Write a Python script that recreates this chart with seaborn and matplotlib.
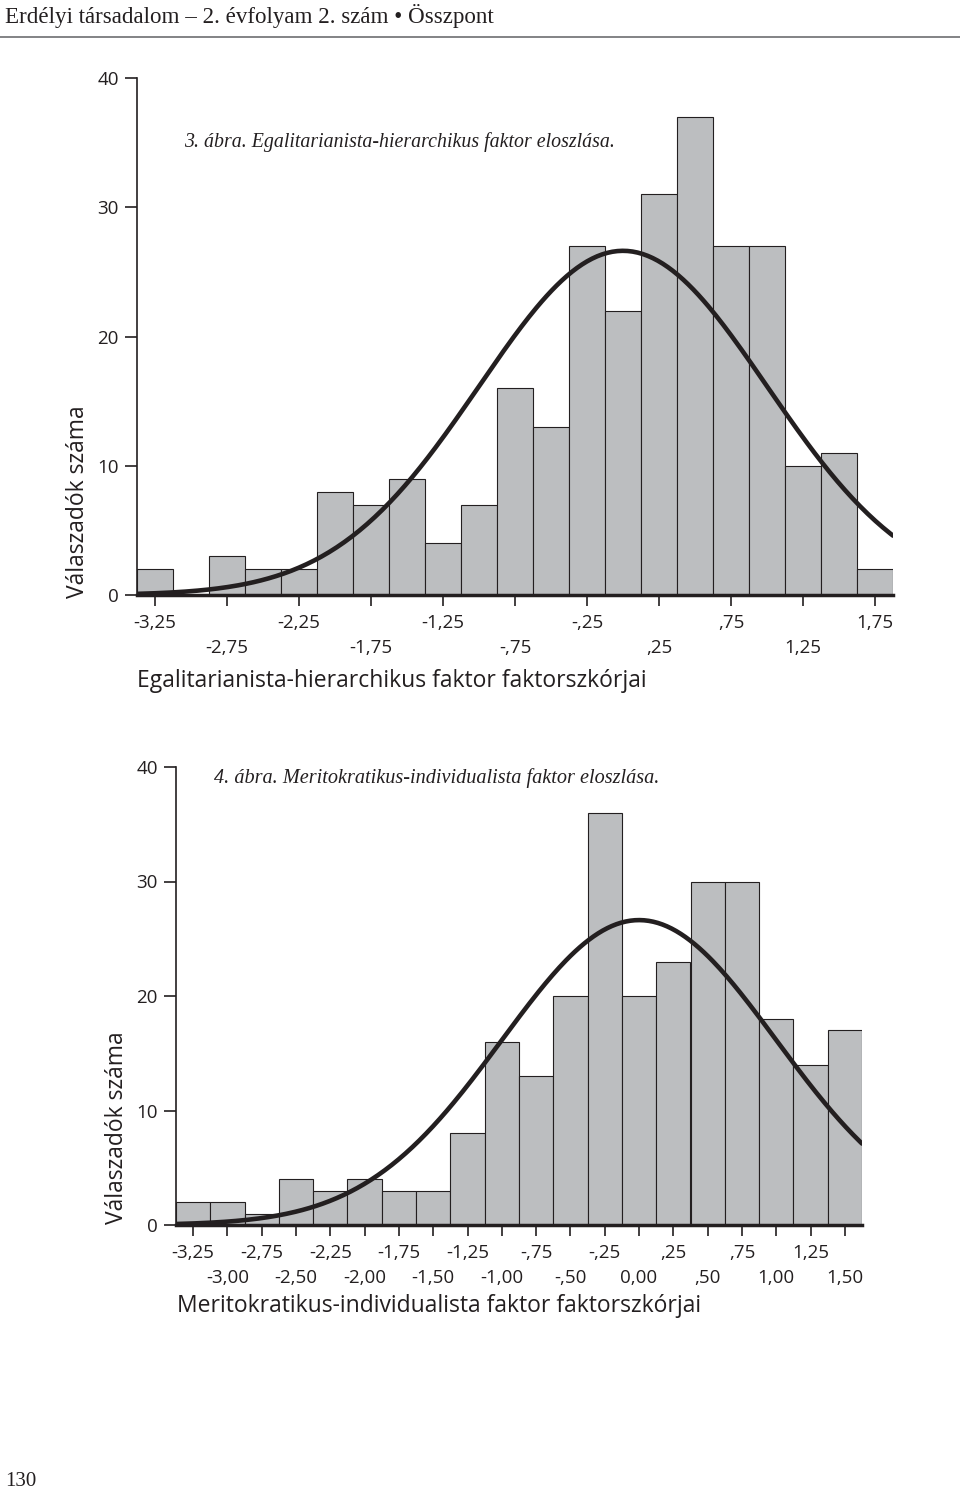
import matplotlib
matplotlib.use("Agg")
import matplotlib.pyplot as plt
import numpy as np
import pandas as pd
import seaborn as sns

# Data (bin width 0,25)
bins_top = [-3.25, -3.00, -2.75, -2.50, -2.25, -2.00, -1.75, -1.50, -1.25, -1.00, -0.75,
            -0.50, -0.25, 0.00, 0.25, 0.50, 0.75, 1.00, 1.25, 1.50, 1.75]
counts_top = [2, 0, 3, 2, 2, 8, 7, 9, 4, 7, 16, 13, 27, 22, 31, 37, 27, 27, 10, 11, 2]

bins_bot = [-3.25, -3.00, -2.75, -2.50, -2.25, -2.00, -1.75, -1.50, -1.25, -1.00,
            -0.75, -0.50, -0.25, 0.00, 0.25, 0.50, 0.75, 1.00, 1.25, 1.50]
counts_bot = [2, 2, 1, 4, 3, 4, 3, 3, 8, 16, 13, 20, 36, 20, 23, 30, 30, 18, 14, 17]

# tick labels: upper row and lower row
top_row1 = [-3.25, -2.25, -1.25, -0.25, 0.75, 1.75]
top_row1_lab = ["-3,25", "-2,25", "-1,25", "-,25", ",75", "1,75"]
top_row2 = [-2.75, -1.75, -0.75, 0.25, 1.25]
top_row2_lab = ["-2,75", "-1,75", "-,75", ",25", "1,25"]

bot_row1 = [-3.25, -2.75, -2.25, -1.75, -1.25, -0.75, -0.25, 0.25, 0.75, 1.25]
bot_row1_lab = ["-3,25", "-2,75", "-2,25", "-1,75", "-1,25", "-,75", "-,25", ",25", ",75", "1,25"]
bot_row2 = [-3.00, -2.50, -2.00, -1.50, -1.00, -0.50, 0.00, 0.50, 1.00, 1.50]
bot_row2_lab = ["-3,00", "-2,50", "-2,00", "-1,50", "-1,00", "-,50", "0,00", ",50", "1,00", "1,50"]

# fitted normal curve parameters
mean_fit = 0.0
sd_fit = 1.0

BAR = "#bcbec0"
INK = "#231f20"
SANS = ["Open Sans", "DejaVu Sans"]
SERIF = ["Liberation Serif", "DejaVu Serif"]


def draw_hist(ax, centers, counts, row1, lab1, row2, lab2):
    bw = 0.25
    edges = [c - bw / 2 for c in centers] + [centers[-1] + bw / 2]
    df = pd.DataFrame({"x": centers, "n": counts})
    sns.histplot(data=df, x="x", weights="n", bins=edges, ax=ax, color=BAR,
                 edgecolor=INK, linewidth=0.8, alpha=1)

    # normal curve
    n = sum(counts)
    xs = np.linspace(edges[0], edges[-1], 300)
    ys = n * bw * np.exp(-0.5 * ((xs - mean_fit) / sd_fit) ** 2) / (sd_fit * np.sqrt(2 * np.pi))
    sns.lineplot(x=xs, y=ys, ax=ax, color=INK, linewidth=3.3)

    ax.set_xlim(edges[0], edges[-1])
    ax.set_ylim(0, 40)
    ax.set_yticks([0, 10, 20, 30, 40])
    # two rows of x labels: major ticks = upper row, minor ticks = lower row
    ax.set_xticks(row1)
    ax.set_xticklabels(lab1)
    ax.set_xticks(row2, minor=True)
    ax.set_xticklabels(lab2, minor=True)
    ax.set_xlabel("")
    ax.set_ylabel("")
    ax.tick_params(axis="x", which="major", length=8, width=1.2, color=INK, labelsize=13.5, pad=5.5)
    ax.tick_params(axis="x", which="minor", length=8, width=1.2, color=INK, labelsize=13.5, pad=24)
    ax.tick_params(axis="y", length=9, width=1.2, color=INK, labelsize=13.5, pad=4)
    for lab in (ax.get_xticklabels() + ax.get_xticklabels(minor=True)
                + ax.get_yticklabels()):
        lab.set_family(SANS)
        lab.set_color(INK)
    sns.despine(ax=ax)
    ax.spines["left"].set_linewidth(1.2)
    ax.spines["bottom"].set_linewidth(2.5)
    ax.spines["left"].set_color(INK)
    ax.spines["bottom"].set_color(INK)
    return ax


def main():
    sns.set_style("ticks")
    plt.rcParams["font.family"] = SANS

    fig = plt.figure(figsize=(9.6, 14.97), dpi=100)

    # header
    fig.text(5 / 960, 1 - 16 / 1497, "Erdélyi társadalom – 2. évfolyam 2. szám • Összpont",
             family=SERIF, fontsize=16.6, color=INK, va="center", ha="left")
    fig.add_artist(plt.Line2D([0, 1], [1 - 37 / 1497] * 2, color="#6d6e71", linewidth=1.2))

    # top chart
    ax1 = fig.add_axes([137 / 960, 1 - 595 / 1497, (893 - 137) / 960, (595 - 78) / 1497])
    draw_hist(ax1, bins_top, counts_top, top_row1, top_row1_lab, top_row2, top_row2_lab)
    fig.text(184 / 960, 1 - 142 / 1497, "3. ábra. Egalitarianista-hierarchikus faktor eloszlása.",
             family=SERIF, style="italic", fontsize=14.3, color=INK, va="center", ha="left")
    fig.text(78 / 960, 1 - 502 / 1497, "Válaszadók száma", rotation=90, family=SANS,
             fontsize=16.5, color=INK, va="center", ha="center")
    fig.text(137 / 960, 1 - 681 / 1497, "Egalitarianista-hierarchikus faktor faktorszkórjai",
             family=SANS, fontsize=16.5, color=INK, va="center", ha="left")

    # bottom chart
    ax2 = fig.add_axes([176 / 960, 1 - 1225 / 1497, (862 - 176) / 960, (1225 - 767) / 1497])
    draw_hist(ax2, bins_bot, counts_bot, bot_row1, bot_row1_lab, bot_row2, bot_row2_lab)
    fig.text(214 / 960, 1 - 778 / 1497, "4. ábra. Meritokratikus-individualista faktor eloszlása.",
             family=SERIF, style="italic", fontsize=14.6, color=INK, va="center", ha="left")
    fig.text(117 / 960, 1 - 1128 / 1497, "Válaszadók száma", rotation=90, family=SANS,
             fontsize=16.5, color=INK, va="center", ha="center")
    fig.text(177 / 960, 1 - 1306 / 1497, "Meritokratikus-individualista faktor faktorszkórjai",
             family=SANS, fontsize=16.5, color=INK, va="center", ha="left")

    # page number
    fig.text(5 / 960, 1 - 1481 / 1497, "130", family=SERIF, fontsize=15, color=INK,
             va="center", ha="left")

    fig.savefig("out.png", dpi=100, facecolor="white")


if __name__ == "__main__":
    main()
